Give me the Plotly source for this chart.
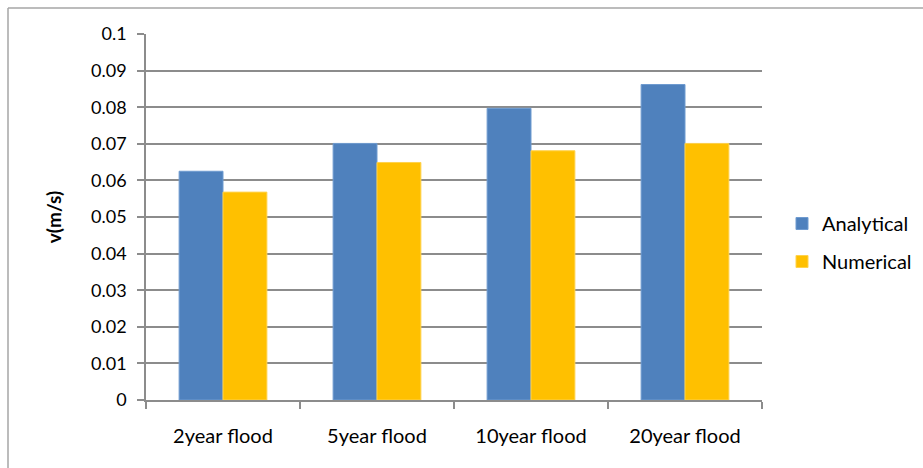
import plotly.graph_objects as go

categories = ["2year flood", "5year flood", "10year flood", "20year flood"]
analytical = [0.0625, 0.0701, 0.0797, 0.0862]
numerical = [0.0568, 0.0649, 0.0681, 0.0701]
y_ticks = [0, 0.01, 0.02, 0.03, 0.04, 0.05, 0.06, 0.07, 0.08, 0.09, 0.1]
y_tick_text = ["0", "0.01", "0.02", "0.03", "0.04", "0.05", "0.06", "0.07", "0.08", "0.09", "0.1"]

FONT = "Lato, 'Open Sans', sans-serif"
GRID = "#8c8c8c"

fig = go.Figure()
fig.add_trace(go.Bar(x=categories, y=analytical, name="Analytical",
                     marker=dict(color="#4f81bd", line=dict(color="#6f9bd0", width=1)),
                     legendgroup="a"))
fig.add_trace(go.Bar(x=categories, y=numerical, name="Numerical",
                     marker=dict(color="#ffc000", line=dict(color="#ffd24d", width=1)),
                     legendgroup="b"))

W, H = 923, 468
L, R, T, B = 146, 161, 34, 68
pw, ph = W - L - R, H - T - B

def px_x(x):
    return (x - L) / pw

def px_y(y):
    return (H - B - y) / ph

fig.update_layout(
    width=W, height=H,
    margin=dict(l=L, r=R, t=T, b=B, pad=0, autoexpand=False),
    paper_bgcolor="white", plot_bgcolor="white",
    barmode="group", bargap=0.43, bargroupgap=0,
    font=dict(family=FONT, size=18, color="#000000"),
    showlegend=True,
    legend=dict(x=px_x(782), y=px_y(204), xanchor="left", yanchor="top",
                font=dict(family=FONT, size=20), tracegroupgap=9,
                itemwidth=30, bgcolor="rgba(0,0,0,0)"),
    xaxis=dict(type="category", tickson="boundaries", ticks="outside", ticklen=7,
               tickcolor=GRID, tickwidth=1.5, showline=True, linecolor=GRID, linewidth=1.5,
               showgrid=False, tickfont=dict(family=FONT, size=20), ticklabelstandoff=17),
    yaxis=dict(range=[0, 0.1], tickvals=y_ticks, ticktext=y_tick_text, ticks="outside",
               ticklen=7, tickcolor=GRID, tickwidth=1.5, showline=True, linecolor=GRID,
               linewidth=1.5, showgrid=True, gridcolor=GRID, gridwidth=1.5, zeroline=False,
               tickfont=dict(family=FONT, size=18), ticklabelstandoff=7,
               title=dict(text="<b>v(m/s)</b>", font=dict(family=FONT, size=19), standoff=24)),
    shapes=[
        dict(type="line", xref="paper", yref="paper", x0=px_x(8), x1=px_x(930),
             y0=px_y(8), y1=px_y(8), line=dict(color="#a6a6a6", width=1.5)),
        dict(type="line", xref="paper", yref="paper", x0=px_x(8), x1=px_x(8),
             y0=px_y(8), y1=px_y(475), line=dict(color="#a6a6a6", width=1.5)),
    ],
)

fig.write_html("out.html")
